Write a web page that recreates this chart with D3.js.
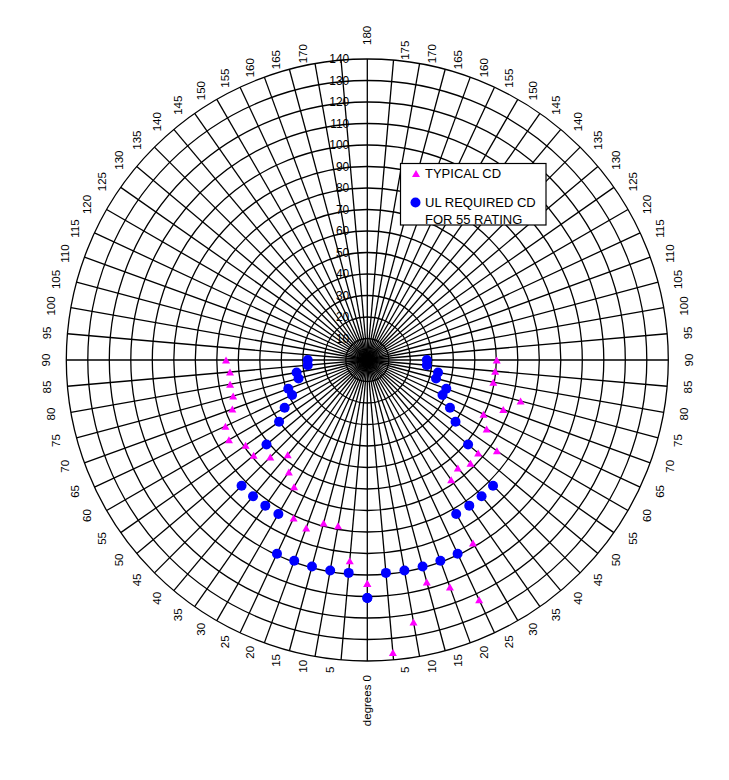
<!DOCTYPE html>
<html>
<head>
<meta charset="utf-8">
<script src="https://cdn.jsdelivr.net/npm/d3@7"></script>
<style>
  body { margin: 0; background: #fff; }
  text { font-family: "Liberation Sans", Arial, sans-serif; fill: #000; }
</style>
</head>
<body>
<div id="chart"></div>
<script>
var width = 729,
    height = 780,
    cx = 367.3,
    cy = 360,
    outerR = 301;

// categories: degrees from nadir, 0..90 on each side
var angles = [0, 5, 10, 15, 20, 25, 30, 35, 40, 45, 50, 55, 60, 65, 70, 75, 80, 85, 90];

// candela values
var typicalRight = [103.9, 136.6, 123.7, 106.9, 112.4, 123.1, 98.3, 68, 65.5, 67.9, 67.3, 73.6, 64.1, 59.6, 67.3, 73.8, 59.5, 59.7, 60.2];
var typicalLeft = [103.9, 93.7, 78.3, 78.5, 83.1, 81.1, 68.1, 63.6, 57.6, 63.8, 69, 69.1, 74.3, 72.8, 66.8, 64.6, 64.8, 64.1, 65.7];
var ulRequired = [110.7, 99.4, 99.4, 99.4, 99.4, 99.4, 82.7, 82.7, 82.7, 82.7, 61.2, 50.1, 44.4, 38.6, 39.1, 33.1, 33.4, 27.8, 27.7];

// value axis ticks and spoke labels (left 175 is hidden in the original)
var valueTicks = [10, 20, 30, 40, 50, 60, 70, 80, 90, 100, 110, 120, 130, 140];
var spokeLabels = ["degrees 0", "5", "10", "15", "20", "25", "30", "35", "40", "45", "50", "55", "60", "65", "70", "75", "80", "85", "90",
  "95", "100", "105", "110", "115", "120", "125", "130", "135", "140", "145", "150", "155", "160", "165", "170", "175", "180",
  "", "170", "165", "160", "155", "150", "145", "140", "135", "130", "125", "120", "115", "110", "105", "100", "95",
  "90", "85", "80", "75", "70", "65", "60", "55", "50", "45", "40", "35", "30", "25", "20", "15", "10", "5"];

var legendItems = [
  {lines: ["TYPICAL CD"], color: "#ff00ff", shape: "triangle"},
  {lines: ["UL REQUIRED CD", "FOR 55 RATING"], color: "#0000ff", shape: "circle"}
];

var r = d3.scaleLinear().domain([0, 140]).range([0, outerR]);
// spoke index -> angle counter-clockwise from the bottom (screen)
var phi = d3.scaleLinear().domain([0, spokeLabels.length]).range([0, 360]);

function pt(deg, v) {
  var a = deg * Math.PI / 180;
  return [cx + r(v) * Math.sin(a), cy + r(v) * Math.cos(a)];
}

var triPath = "M0,-3.5L4,3.5L-4,3.5Z";

var svg = d3.select("#chart")
  .append("svg")
  .attr("width", width)
  .attr("height", height);

svg.append("rect")
  .attr("width", width)
  .attr("height", height)
  .attr("fill", "#fff");

// GRID
var grid = svg.append("g")
  .attr("fill", "none")
  .attr("stroke", "#000")
  .attr("stroke-width", 1.3);

grid.selectAll("circle")
  .data(valueTicks)
  .enter().append("circle")
  .attr("cx", cx)
  .attr("cy", cy)
  .attr("r", function(d) { return r(d); });

grid.selectAll("line")
  .data(spokeLabels)
  .enter().append("line")
  .attr("x1", cx)
  .attr("y1", cy)
  .attr("x2", function(d, i) { return pt(phi(i), 140)[0]; })
  .attr("y2", function(d, i) { return pt(phi(i), 140)[1]; });

// VALUE AXIS LABELS
svg.append("g")
  .selectAll("text")
  .data(valueTicks)
  .enter().append("text")
  .attr("x", cx - 18)
  .attr("y", function(d) { return cy - r(d); })
  .attr("dy", "0.35em")
  .attr("text-anchor", "end")
  .style("font-size", "12px")
  .text(function(d) { return d; });

// SPOKE LABELS (rotated, placed next to an anchor just outside the rim)
var labelR = outerR + 10;
svg.append("g")
  .selectAll("text")
  .data(spokeLabels)
  .enter().append("text")
  .each(function(d, i) {
    var deg = phi(i),
        a = deg * Math.PI / 180,
        ax = cx + labelR * Math.sin(a),
        ay = cy + labelR * Math.cos(a),
        t = d3.select(this);
    if (deg === 0) {
      t.attr("text-anchor", "end").attr("transform", "translate(" + ax + "," + (ay + 4) + ") rotate(-90)");
    } else if (deg === 180) {
      t.attr("text-anchor", "start").attr("transform", "translate(" + ax + "," + (ay - 4) + ") rotate(-90)");
    } else {
      var side = deg < 180 ? 1 : -1;
      t.attr("text-anchor", "middle").attr("transform", "translate(" + (ax + side * 10.5) + "," + ay + ") rotate(-90)");
    }
  })
  .attr("dy", "0.35em")
  .style("font-size", "11.5px")
  .text(function(d) { return d; });

// DATA MARKERS
function triangles(values, sign) {
  svg.append("g")
    .selectAll("path")
    .data(values)
    .enter().append("path")
    .attr("d", triPath)
    .attr("fill", "#ff00ff")
    .attr("transform", function(d, i) {
      var p = pt(sign * angles[i], d);
      return "translate(" + p[0] + "," + p[1] + ")";
    });
}

function dots(values, sign) {
  svg.append("g")
    .selectAll("circle")
    .data(values)
    .enter().append("circle")
    .attr("r", 5)
    .attr("fill", "#0000ff")
    .attr("cx", function(d, i) { return pt(sign * angles[i], d)[0]; })
    .attr("cy", function(d, i) { return pt(sign * angles[i], d)[1]; });
}

triangles(typicalRight, 1);
triangles(typicalLeft, -1);
dots(ulRequired, 1);
dots(ulRequired, -1);

// LEGEND
var legend = svg.append("g").attr("transform", "translate(400.5,163.5)");

legend.append("rect")
  .attr("width", 145.5)
  .attr("height", 61.5)
  .attr("fill", "#fff")
  .attr("stroke", "#000")
  .attr("stroke-width", 1.2);

var rowY = [10, 39];
legendItems.forEach(function(item, i) {
  if (item.shape === "triangle") {
    legend.append("path")
      .attr("d", triPath)
      .attr("fill", item.color)
      .attr("transform", "translate(15.5," + rowY[i] + ")");
  } else {
    legend.append("circle")
      .attr("cx", 15)
      .attr("cy", rowY[i])
      .attr("r", 5)
      .attr("fill", item.color);
  }
  item.lines.forEach(function(line, j) {
    legend.append("text")
      .attr("x", 24.5)
      .attr("y", rowY[i] + 4 + j * 17)
      .style("font-size", "13px")
      .text(line);
  });
});
</script>
</body>
</html>
